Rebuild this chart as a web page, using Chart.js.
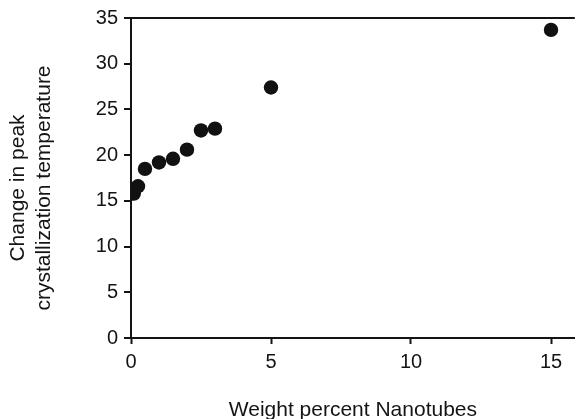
<!DOCTYPE html>
<html>
<head>
<meta charset="utf-8">
<script src="https://cdn.jsdelivr.net/npm/chart.js@4"></script>
<style>
  html, body { margin: 0; padding: 0; background: #fff; }
  #wrap { width: 582px; height: 419px; position: relative; }
</style>
</head>
<body>
<div id="wrap"><canvas id="c" width="582" height="419"></canvas></div>
<script>
// Data
const weightPercent = [0.1, 0.25, 0.5, 1, 1.5, 2, 2.5, 3, 5, 15];
const tempChange    = [15.8, 16.6, 18.5, 19.2, 19.6, 20.6, 22.7, 22.9, 27.4, 33.7];
const xTitle = 'Weight percent Nanotubes';
const yTitle = ['Change in peak', 'crystallization temperature'];

const points = weightPercent.map((x, i) => ({ x: x, y: tempChange[i] }));
const FONT = "'Liberation Sans', Arial, Helvetica, sans-serif";
const INK = '#141414';

// shift the y-axis title slightly downward, as in the reference
function shiftTitle(scale) {
  if (scale._titleShifted) return;
  const orig = scale.drawTitle.bind(scale);
  scale.drawTitle = function () {
    const ctx = this.ctx;
    ctx.save();
    ctx.translate(0, 10);
    orig();
    ctx.restore();
  };
  scale._titleShifted = true;
}

new Chart(document.getElementById('c'), {
  type: 'scatter',
  data: {
    datasets: [{
      data: points,
      pointRadius: 7.2,
      pointHoverRadius: 7.2,
      pointBackgroundColor: '#111',
      pointBorderColor: '#111',
      pointBorderWidth: 0
    }]
  },
  options: {
    responsive: false,
    animation: false,
    devicePixelRatio: 1,
    layout: { padding: { top: 17, right: 1, left: 0, bottom: 0 } },
    plugins: { legend: { display: false }, tooltip: { enabled: false } },
    scales: {
      x: {
        type: 'linear',
        min: 0,
        max: 15.85,
        afterFit: s => { s.height = 81; },
        border: { display: true, color: INK, width: 2 },
        grid: { drawOnChartArea: false, drawTicks: true, tickLength: 6, tickColor: INK, tickWidth: 2 },
        ticks: { stepSize: 5, includeBounds: false, padding: 6, color: INK, font: { family: FONT, size: 20 } },
        title: { display: true, text: xTitle, color: INK, padding: { top: 0, bottom: 0 }, font: { family: FONT, size: 21, lineHeight: 0.8 } }
      },
      y: {
        type: 'linear',
        min: 0,
        max: 35,
        afterFit: s => { s.width = 131; },
        afterUpdate: shiftTitle,
        border: { display: true, color: INK, width: 2 },
        grid: {
          drawOnChartArea: true,
          drawTicks: true,
          tickLength: 7,
          tickColor: INK,
          tickWidth: 2,
          lineWidth: 2,
          color: ctx => (ctx.tick && ctx.tick.value === 35) ? INK : 'rgba(0,0,0,0)'
        },
        ticks: { stepSize: 5, padding: 6, color: INK, font: { family: FONT, size: 20 } },
        title: { display: true, text: yTitle, color: INK, padding: { top: 6, bottom: 0 }, font: { family: FONT, size: 21, lineHeight: 1.2 } }
      }
    }
  }
});
</script>
</body>
</html>
